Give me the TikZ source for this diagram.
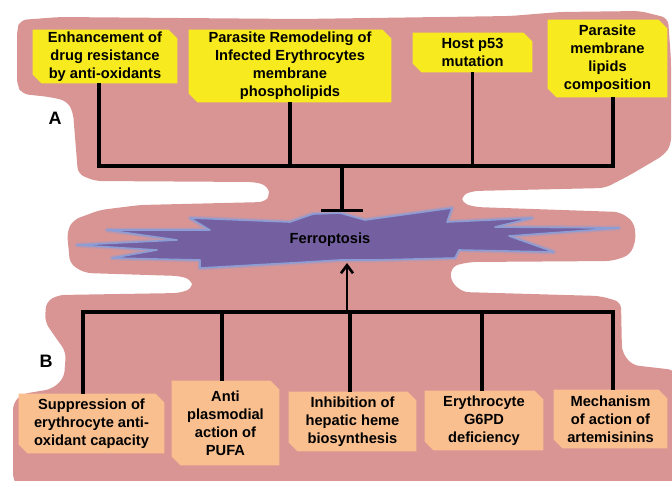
\documentclass[tikz,border=0pt]{standalone}
\usepackage{fontspec}
\setmainfont{Liberation Sans}
\usetikzlibrary{arrows.meta,backgrounds}
\definecolor{pinkbg}{HTML}{D99594}
\definecolor{yel}{HTML}{F7EB20}
\definecolor{org}{HTML}{F9BF8F}
\definecolor{purp}{HTML}{7460A0}
\definecolor{purpedge}{HTML}{8C9CD4}
\begin{document}
\begin{tikzpicture}[x=0.75pt,y=-0.75pt,
  conn/.style={line width=2.5pt},
  box/.style={inner sep=0pt, align=center, font=\bfseries\fontsize{11}{13.5}\selectfont},
  lab/.style={font=\bfseries\fontsize{13.5}{15}\selectfont}]
\useasboundingbox (0,0) rectangle (672,480);

% top boxes
\node[box, minimum width=108pt, minimum height=39.75pt] (t1) at (105,56.5) {Enhancement of\\drug resistance\\by anti-oxidants};
\node[box, minimum width=151.5pt, minimum height=54pt] (t2) at (290,66) {Parasite Remodeling of\\Infected Erythrocytes\\membrane\\phospholipids};
\node[box, minimum width=89.25pt, minimum height=29.25pt] (t3) at (472.5,52.5) {Host p53\\mutation};
\node[box, minimum width=89.25pt, minimum height=57.75pt] (t4) at (607.5,58.5) {Parasite\\membrane\\lipids\\composition};

% bottom boxes
\node[box, minimum width=108.75pt, minimum height=44.25pt] (b1) at (91.5,423.5) {Suppression of\\erythrocyte anti-\\oxidant capacity};
\node[box, minimum width=80.25pt, minimum height=63pt] (b2) at (225.5,423) {Anti\\plasmodial\\action of\\PUFA};
\node[box, minimum width=95.25pt, minimum height=44.25pt] (b3) at (352.5,421.5) {Inhibition of\\hepatic heme\\biosynthesis};
\node[box, minimum width=88.5pt, minimum height=44.25pt] (b4) at (484,420.5) {Erythrocyte\\G6PD\\deficiency};
\node[box, minimum width=84.75pt, minimum height=43.5pt] (b5) at (610.5,419) {Mechanism\\of action of\\artemisinins};

% labels
\node[lab] (la) at (55,118) {A};
\node[lab] (lb) at (46,361) {B};

% centre
\node[box] (ferro) at (330,240) {Ferroptosis};
\coordinate (jA) at (342,166);
\coordinate (fTop) at (342,212);
\coordinate (jB) at (347,312);
\coordinate (fBot) at (347,263);

% connectors top
\draw[conn] ([xshift=-4.5pt]t1.south) |- (jA) -| ([xshift=4.1pt]t4.south);
\draw[conn] (t2.south) -- (t2.south |- jA);
\draw[conn] (t3.south) -- (t3.south |- jA);
\draw[conn, -{Bar[width=31pt]}] (jA) -- (fTop);

% connectors bottom
\draw[conn] ([xshift=-6.4pt]b1.north) |- (jB) -| ([xshift=1.9pt]b5.north);
\draw[conn] ([xshift=-2.6pt]b2.north) -- ([xshift=-2.6pt]b2.north |- jB);
\draw[conn] ([xshift=-1.9pt]b3.north) -- ([xshift=-1.9pt]b3.north |- jB);
\draw[conn] ([xshift=-1.5pt]b4.north) -- ([xshift=-1.5pt]b4.north |- jB);
\draw[line width=2pt, -{Straight Barb[length=6pt,width=9pt]}] (jB) -- (fBot);

\begin{pgfonlayer}{background}
\fill[pinkbg, rounded corners=5pt]
 (17,30) -- (20,20) -- (60,17) -- (300,19) -- (510,16) -- (560,12) -- (640,11) -- (668,18)
 -- (671,60) -- (671,145) -- (664,155) -- (630,175) -- (605,188) -- (472,191) -- (461,196)
 -- (462,203) -- (475,207) -- (620,212) -- (634,222) -- (636,240) -- (630,255) -- (612,261)
 -- (470,262) -- (452,266) -- (450,280) -- (462,292) -- (600,296) -- (621,302) -- (622,352)
 -- (632,365) -- (675,370) -- (680,490) -- (20,490) -- (13,480) -- (13,403) -- (22,394)
 -- (52,389) -- (64,378) -- (66,352) -- (56,338) -- (45,322) -- (46,302) -- (58,295)
 -- (180,293) -- (193,288) -- (192,280) -- (180,276) -- (85,273) -- (70,264) -- (67,232)
 -- (73,220) -- (100,210) -- (140,205) -- (265,202) -- (270,196) -- (268,186) -- (255,182)
 -- (95,181) -- (78,174) -- (73,112) -- (67,101) -- (50,97) -- (22,94) -- (17,85) -- cycle;
% star
\def\starpath{(313,214) -- (340,213) -- (365,220) -- (452,208) -- (447,222) -- (532,218)
 -- (495,227) -- (619,228) -- (509,236) -- (554,252) -- (459,250) -- (455,258) -- (375,260)
 -- (340,260) -- (290,263) -- (200,268) -- (200,260) -- (112,258) -- (157,250) -- (77,245)
 -- (177,240) -- (107,230) -- (210,230) -- (190,218) -- (290,222) -- cycle}
\draw[purpedge, opacity=0.35, line width=3.5pt, line join=round] \starpath;
\filldraw[fill=purp, draw=purpedge, line width=1.2pt, line join=round] \starpath;
% chamfered boxes
\foreach \n/\c in {t1/yel,t2/yel,t3/yel,t4/yel,b1/org,b2/org,b3/org,b4/org,b5/org}
  \fill[\c] (\n.north west) -- ([xshift=-6.5pt]\n.north east) -- ([yshift=-6.5pt]\n.north east)
   -- (\n.south east) -- ([xshift=6.5pt]\n.south west) -- ([yshift=6.5pt]\n.south west) -- cycle;
\end{pgfonlayer}
\end{tikzpicture}
\end{document}
